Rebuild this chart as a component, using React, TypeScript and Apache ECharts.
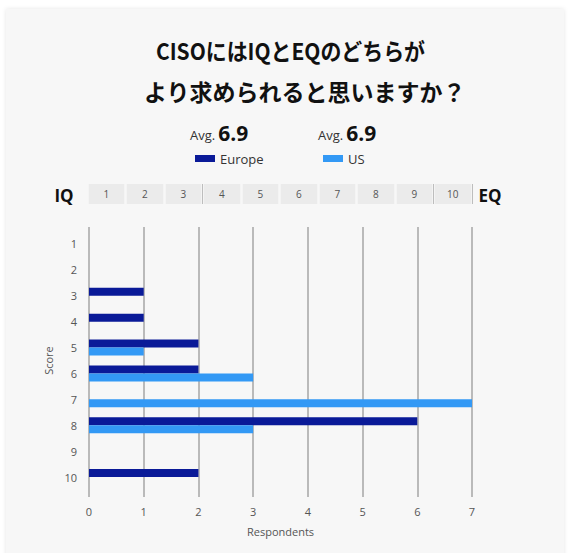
import React, { useEffect, useRef } from "react";
import * as echarts from "echarts";

// Score categories (1 = IQ ... 10 = EQ)
const scores = ["1", "2", "3", "4", "5", "6", "7", "8", "9", "10"];
// Respondents per score
const europe = [0, 0, 1, 1, 2, 2, 0, 6, 0, 2];
const us = [0, 0, 0, 0, 1, 3, 7, 3, 0, 0];
const respondentTicks = [0, 7];

const titleLines = ["CISOにはIQとEQのどちらが", "より求められると思いますか？"];

const EUROPE_COLOR = "#0a1a98";
const US_COLOR = "#3399f5";
const LATIN = "'Open Sans', 'Noto Sans', sans-serif";
const CJK = "'Noto Sans CJK JP', sans-serif";

// Weighted mean score, one decimal
function average(counts: number[]): string {
  let total = 0;
  let weighted = 0;
  counts.forEach((c, i) => {
    total += c;
    weighted += c * Number(scores[i]);
  });
  return (weighted / total).toFixed(1);
}

export default function App() {
  const ref = useRef<HTMLDivElement>(null);

  useEffect(() => {
    if (!ref.current) return;
    const chart = echarts.init(ref.current, null, { renderer: "svg" });

    const avgText = (v: string) => ({
      text: `{a|Avg.}{b|${v}}`,
      rich: {
        a: { fontFamily: LATIN, fontSize: 13, fill: "#333", padding: [4, 3, 0, 0] },
        b: { fontFamily: LATIN, fontSize: 21, fontWeight: "bold", fill: "#111" },
      },
    });

    chart.setOption({
      animation: false,
      backgroundColor: "#ffffff",
      graphic: [
        {
          type: "rect",
          z: -10,
          shape: { x: 6, y: 9, width: 558, height: 550 },
          style: {
            fill: "#f7f7f7",
            shadowBlur: 4,
            shadowColor: "rgba(0,0,0,0.10)",
          },
        },
        {
          // first title line is set a little condensed
          type: "text",
          x: 156,
          y: 50,
          scaleX: 0.91,
          style: {
            text: titleLines[0],
            font: `bold 23px ${CJK}`,
            fill: "#111",
            verticalAlign: "middle",
          },
        },
        {
          type: "text",
          x: 144,
          y: 91,
          style: {
            text: titleLines[1],
            font: `bold 23px ${CJK}`,
            fill: "#111",
            verticalAlign: "middle",
          },
        },
        {
          type: "text",
          x: 190,
          y: 133,
          style: { ...avgText(average(europe)), verticalAlign: "middle" },
        },
        {
          type: "text",
          x: 318,
          y: 133,
          style: { ...avgText(average(us)), verticalAlign: "middle" },
        },
        {
          type: "text",
          x: 64,
          y: 195,
          style: {
            text: "IQ",
            font: `bold 17px ${LATIN}`,
            fill: "#111",
            align: "center",
            verticalAlign: "middle",
          },
        },
        {
          type: "text",
          x: 490,
          y: 195,
          style: {
            text: "EQ",
            font: `bold 17px ${LATIN}`,
            fill: "#111",
            align: "center",
            verticalAlign: "middle",
          },
        },
      ],
      legend: [
        {
          data: ["Europe"],
          left: 190,
          top: 147,
          icon: "rect",
          itemWidth: 20,
          itemHeight: 7,
          itemGap: 10,
          textStyle: { fontFamily: LATIN, fontSize: 13, color: "#333" },
          selectedMode: false,
        },
        {
          data: ["US"],
          left: 318,
          top: 147,
          icon: "rect",
          itemWidth: 20,
          itemHeight: 7,
          textStyle: { fontFamily: LATIN, fontSize: 13, color: "#333" },
          selectedMode: false,
        },
      ],
      grid: [
        // gridlines + respondent axis
        { left: 89, right: 96, top: 227, bottom: 56 },
        // bars
        { left: 89, right: 96, top: 231, bottom: 63 },
        // IQ–EQ scale strip
        { left: 87, right: 96, top: 184, height: 20 },
      ],
      xAxis: [
        {
          gridIndex: 0,
          type: "value",
          min: respondentTicks[0],
          max: respondentTicks[1],
          interval: 1,
          axisLine: { show: false },
          axisTick: { show: false },
          axisLabel: {
            color: "#555",
            fontFamily: LATIN,
            fontSize: 11,
            margin: 9,
          },
          splitLine: { lineStyle: { color: "#a6a6a6", width: 1.5 } },
          name: "Respondents",
          nameLocation: "middle",
          nameGap: 29,
          nameTextStyle: { color: "#555", fontFamily: LATIN, fontSize: 11 },
        },
        {
          gridIndex: 1,
          type: "value",
          min: respondentTicks[0],
          max: respondentTicks[1],
          show: false,
        },
        {
          gridIndex: 2,
          type: "category",
          data: scores,
          axisLine: { show: false },
          axisTick: { show: false },
          axisLabel: {
            inside: true,
            margin: 10,
            color: "#555",
            fontFamily: LATIN,
            fontSize: 10,
            verticalAlign: "middle",
          },
          splitArea: { show: true, areaStyle: { color: ["#ebebeb"] } },
          splitLine: { show: true, lineStyle: { color: "#f7f7f7", width: 2.5 } },
        },
        {
          gridIndex: 2,
          type: "category",
          data: scores,
          position: "top",
          axisLine: { show: false },
          axisTick: { show: false },
          axisLabel: { show: false },
          splitLine: {
            show: true,
            interval: (index: number) => index === 3 || index === 9,
            lineStyle: { color: "#bdbdbd", width: 1 },
          },
        },
      ],
      yAxis: [
        { gridIndex: 0, type: "value", show: false },
        {
          gridIndex: 1,
          type: "category",
          data: scores,
          inverse: true,
          axisLine: { show: false },
          axisTick: { show: false },
          axisLabel: {
            color: "#555",
            fontFamily: LATIN,
            fontSize: 11,
            margin: 12,
          },
          name: "Score",
          nameLocation: "middle",
          nameGap: 34,
          nameTextStyle: { color: "#555", fontFamily: LATIN, fontSize: 11 },
        },
        { gridIndex: 2, type: "value", show: false, min: 0, max: 1 },
      ],
      series: [
        {
          name: "Europe",
          type: "bar",
          xAxisIndex: 1,
          yAxisIndex: 1,
          data: europe,
          barWidth: 8,
          barGap: "0%",
          itemStyle: { color: EUROPE_COLOR },
        },
        {
          name: "US",
          type: "bar",
          xAxisIndex: 1,
          yAxisIndex: 1,
          data: us,
          barWidth: 8,
          barGap: "0%",
          itemStyle: { color: US_COLOR },
        },
      ],
    });

    return () => chart.dispose();
  }, []);

  return (
    <div
      ref={ref}
      style={{ position: "fixed", left: 0, top: 0, width: 568, height: 553 }}
    />
  );
}
